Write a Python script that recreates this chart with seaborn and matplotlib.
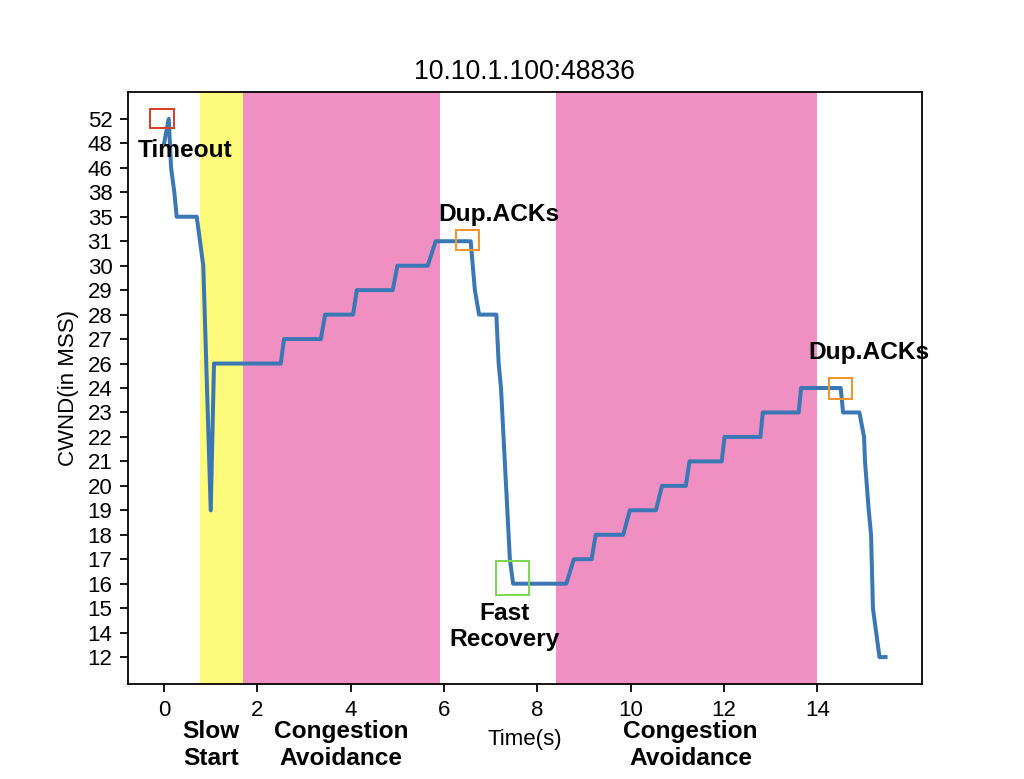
import matplotlib
matplotlib.use("Agg")
import matplotlib.pyplot as plt
from matplotlib.patches import Rectangle
import seaborn as sns
import pandas as pd

# CWND trace (time in s, window in MSS)
time_s = [0.0, 0.10, 0.15, 0.22, 0.27, 0.70, 0.84, 1.00, 1.07, 2.50, 2.57,
          3.36, 3.45, 4.05, 4.13, 4.90, 5.00, 5.65, 5.82, 6.57, 6.66,
          6.75, 7.12, 7.17, 7.22, 7.41, 7.48, 8.62, 8.78, 9.16, 9.25,
          9.84, 9.98, 10.54, 10.67, 11.18, 11.26, 11.95, 12.01, 12.78, 12.83,
          13.60, 13.65, 14.50, 14.55, 14.90, 15.00, 15.02, 15.10, 15.15, 15.19,
          15.26, 15.33, 15.46]
cwnd = [48, 52, 46, 38, 35, 35, 30, 19, 26, 26, 27,
        27, 28, 28, 29, 29, 30, 30, 31, 31, 29,
        28, 28, 26, 24, 17, 16, 16, 17, 17, 18,
        18, 19, 19, 20, 20, 21, 21, 22, 22, 23,
        23, 24, 24, 23, 23, 22, 21, 19, 18, 15,
        14, 12, 12]

# y axis is categorical: one evenly spaced slot per distinct window value
cwnd_levels = sorted(set(cwnd))

# phases (start, end, colour, label)
phase_start = [0.77, 1.69, 8.39]
phase_end = [1.69, 5.91, 14.0]
phase_color = ["#fdfa7c", "#f090c2", "#f090c2"]
phase_label = ["Slow\nStart", "Congestion\nAvoidance", "Congestion\nAvoidance"]
phase_label_x = [1.01, 3.79, 11.28]

# event boxes: (time, cwnd level, width, height, colour)
box_t = [-0.04, 6.50, 14.50, 7.46]
box_level = [52, 31, 24, 16]
box_w = [0.52, 0.50, 0.50, 0.71]
box_h = [0.78, 0.80, 0.85, 1.37]
box_dy = [0.03, 0.04, -0.02, 0.23]
box_color = ["#d9402a", "#f0952e", "#f0952e", "#7fd855"]

events = ["Timeout", "Dup.ACKs", "Dup.ACKs", "Fast\nRecovery"]
event_x = [0.45, 7.18, 15.10, 7.30]
event_y = [20.7, 18.1, 12.46, 1.25]

df = pd.DataFrame({"time": time_s, "cwnd": cwnd})
df["level"] = df["cwnd"].map({v: i for i, v in enumerate(cwnd_levels)})

plt.rcParams["font.family"] = ["Liberation Sans", "DejaVu Sans"]

fig, ax = plt.subplots(figsize=(6.4, 779 / 160), dpi=160)
fig.subplots_adjust(left=0.125, right=0.9, top=1 - 92 / 779, bottom=1 - 684 / 779)

for s, e, c in zip(phase_start, phase_end, phase_color):
    ax.axvspan(s, e, color=c, lw=0, zorder=0)

sns.lineplot(data=df, x="time", y="level", estimator=None, sort=False,
             color="#3b77b5", lw=1.8, ax=ax, zorder=3)

# boxes added as plain artists so they don't stretch the autoscaled limits
for t, lv, w, h, dy, c in zip(box_t, box_level, box_w, box_h, box_dy, box_color):
    y0 = cwnd_levels.index(lv) + dy
    ax.add_artist(Rectangle((t - w / 2, y0 - h / 2), w, h, fill=False,
                            edgecolor=c, lw=0.9, zorder=4))

for txt, x, y in zip(events, event_x, event_y):
    ax.text(x, y, txt, ha="center", va="center", fontsize=11,
            fontweight="bold", zorder=5)

trans = ax.get_xaxis_transform()
for txt, x in zip(phase_label, phase_label_x):
    ax.text(x, -0.103, txt, transform=trans, ha="center", va="center",
            fontsize=11, fontweight="bold")

ax.set_yticks(range(len(cwnd_levels)))
ax.set_yticklabels([str(v) for v in cwnd_levels])
ax.set_xticks(range(0, 16, 2))
ax.margins(0.05)
ax.set_title("10.10.1.100:48836", fontsize=12)
ax.set_xlabel("Time(s)")
ax.set_ylabel("CWND(in MSS)")

fig.savefig("out.png", dpi=160)
